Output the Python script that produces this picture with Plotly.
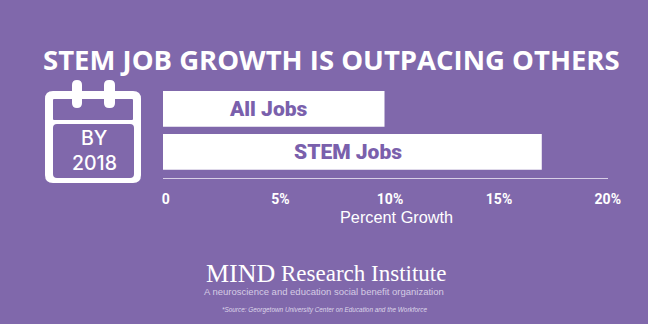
import plotly.graph_objects as go

categories = ["All Jobs", "STEM Jobs"]
growth_pct = [10, 17.1]
tick_labels = ["0", "5%", "10%", "15%", "20%"]
tick_label_positions = [0.13, 5.3, 10.25, 15.17, 20.08]

W, H = 648, 324
BG = "#8068AB"
INK = "#7A60AC"
WHITE = "#FFFFFF"
HEAVY = "Roboto"


def px(x):
    return x / W


def py(y):
    return 1 - y / H


def rounded(x0, y0, x1, y1, r):
    return (
        f"M{px(x0 + r)},{py(y0)} L{px(x1 - r)},{py(y0)} Q{px(x1)},{py(y0)} {px(x1)},{py(y0 + r)} "
        f"L{px(x1)},{py(y1 - r)} Q{px(x1)},{py(y1)} {px(x1 - r)},{py(y1)} "
        f"L{px(x0 + r)},{py(y1)} Q{px(x0)},{py(y1)} {px(x0)},{py(y1 - r)} "
        f"L{px(x0)},{py(y0 + r)} Q{px(x0)},{py(y0)} {px(x0 + r)},{py(y0)} Z"
    )


def icon(x0, y0, x1, y1, r, fill):
    return dict(type="path", xref="paper", yref="paper", path=rounded(x0, y0, x1, y1, r),
                fillcolor=fill, line=dict(width=0), layer="above")


fig = go.Figure(
    go.Bar(
        x=growth_pct,
        y=categories,
        orientation="h",
        marker=dict(color=WHITE, line=dict(width=0)),
        width=0.83,
        hoverinfo="skip",
    )
)

shapes = [
    icon(45, 91, 141, 183, 8, WHITE),
    icon(53, 99, 133, 120, 1, BG),
    icon(53, 124, 134, 178, 4, BG),
    icon(72, 80, 82, 108, 5, WHITE),
    icon(104, 80, 115, 108, 5, WHITE),
]


def label(text, x, y, size, color=WHITE, family="Open Sans", weight=None, italic=False):
    font = dict(size=size, color=color, family=family)
    if weight:
        font["weight"] = weight
    if italic:
        font["style"] = "italic"
    return dict(text=text, x=px(x), y=py(y), xref="paper", yref="paper", showarrow=False,
                xanchor="center", yanchor="middle", font=font)


annotations = [
    label("STEM JOB GROWTH IS OUTPACING OTHERS", 331, 59, 27.5, weight=700),
    label("BY", 94, 137.5, 19.5, family="Inter", weight=500),
    label("2018", 94, 163, 19.5, family="Inter", weight=500),
    label("Percent Growth", 396, 217, 16.3, family="Liberation Sans"),
    label("MIND", 240, 273, 26, family="Liberation Serif"),
    label("Research Institute", 363, 273, 23, family="Liberation Serif"),
    label("A neuroscience and education social benefit organization", 324, 291, 9.5,
          color="#D5CCE5", family="Liberation Sans"),
    label("*Source: Georgetown University Center on Education and the Workforce", 324, 310, 6.4,
          color="#DDD6EA", family="Liberation Sans", italic=True),
    dict(text=categories[0], x=growth_pct[0] / 2, y=categories[0], xshift=-5, showarrow=False,
         font=dict(size=21, color=INK, family=HEAVY, weight=900)),
    dict(text=categories[1], x=growth_pct[1] / 2, y=categories[1], xshift=-4, showarrow=False,
         font=dict(size=21, color=INK, family=HEAVY, weight=900)),
]

fig.update_layout(
    width=W,
    height=H,
    margin=dict(l=0, r=0, t=0, b=0, autoexpand=False),
    paper_bgcolor=BG,
    plot_bgcolor=BG,
    showlegend=False,
    shapes=shapes,
    annotations=annotations,
    xaxis=dict(
        domain=[px(163), px(608)],
        range=[0, 20.09],
        tickmode="array",
        tickvals=tick_label_positions,
        ticktext=tick_labels,
        tickfont=dict(size=14, color=WHITE, family=HEAVY, weight=700),
        ticks="outside",
        ticklen=8,
        tickcolor=BG,
        showgrid=False,
        zeroline=False,
        showline=True,
        linecolor="#D8CFE6",
        linewidth=1.2,
        anchor="y",
    ),
    yaxis=dict(
        domain=[py(177.7), py(87.4)],
        type="category",
        categoryorder="array",
        categoryarray=categories,
        range=[1.6, -0.5],
        showticklabels=False,
        ticks="",
        showgrid=False,
        zeroline=False,
        showline=False,
    ),
)

fig.write_html("out.html", config=dict(displayModeBar=False),
               post_script="document.body.style.margin='0';document.body.style.background='#8068AB';")
